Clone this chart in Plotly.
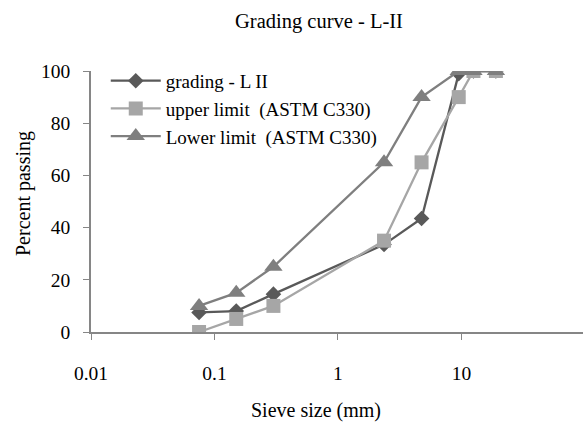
import plotly.graph_objects as go

sieve = [0.075, 0.15, 0.3, 2.36, 4.75, 9.5, 12.5, 19]
grading = [7.5, 8, 14.5, 33.5, 43.5, 99, 100, 100]
upper = [0, 5, 10, 35, 65, 90, 100, 100]
lower = [10, 15, 25, 65, 90, 100, 100, 100]
names = ["grading - L II", "upper limit  (ASTM C330)", "Lower limit  (ASTM C330)"]
x_ticks = [0.01, 0.1, 1, 10, 100]
x_tick_text = ["0.01", "0.1", "1", "10", "100"]
y_ticks = [0, 20, 40, 60, 80, 100]

FONT = "'Liberation Serif', 'Times New Roman', serif"
fig = go.Figure()
fig.add_trace(go.Scatter(x=sieve, y=grading, name=names[0], mode="lines+markers",
                         line=dict(color="#595959", width=2.3),
                         marker=dict(symbol="diamond", size=12, color="#595959")))
fig.add_trace(go.Scatter(x=sieve, y=upper, name=names[1], mode="lines+markers",
                         line=dict(color="#A6A6A6", width=2.3),
                         marker=dict(symbol="square", size=14, color="#A6A6A6")))
fig.add_trace(go.Scatter(x=sieve, y=lower, name=names[2], mode="lines+markers",
                         line=dict(color="#7F7F7F", width=2.3),
                         marker=dict(symbol="triangle-up", size=16, color="#7F7F7F")))

fig.update_layout(
    width=583, height=426,
    margin=dict(l=91, r=0, t=71, b=94),
    plot_bgcolor="white", paper_bgcolor="white",
    font=dict(family=FONT, size=19, color="black"),
    showlegend=True,
    legend=dict(x=0.03, y=1.035, xanchor="left", yanchor="top",
                bgcolor="rgba(0,0,0,0)", font=dict(family=FONT, size=19),
                itemwidth=50, tracegroupgap=0),
    xaxis=dict(type="log", range=[-2, 1.984], tickvals=x_ticks, ticktext=x_tick_text,
               showline=True, linecolor="#868686", linewidth=1.5,
               ticks="outside", ticklen=6, tickcolor="#868686",
               showgrid=False, zeroline=False, ticklabelstandoff=17,
               tickfont=dict(family=FONT, size=19.5)),
    yaxis=dict(range=[0, 100], tickvals=y_ticks,
               showline=True, linecolor="#868686", linewidth=1.5,
               ticks="outside", ticklen=6, tickcolor="#868686",
               showgrid=False, zeroline=False, ticklabelstandoff=9,
               tickfont=dict(family=FONT, size=19.5)),
    annotations=[
        dict(text="Grading curve - L-II", x=319, y=22, showarrow=False,
             font=dict(family=FONT, size=20.5)),
        dict(text="Sieve size (mm)", x=316, y=410, showarrow=False,
             font=dict(family=FONT, size=20)),
        dict(text="Percent passing", x=23, y=194, showarrow=False, textangle=-90,
             font=dict(family=FONT, size=20)),
    ],
)
# convert pixel positions of annotations to paper coords
W, H = 583, 426
l, r, t, b = 91, 0, 71, 94
pw, ph = W - l - r, H - t - b
new = []
for a in fig.layout.annotations:
    px, py = a.x, a.y
    a.update(x=(px - l) / pw, y=1 - (py - t) / ph, xref="paper", yref="paper",
             xanchor="center", yanchor="middle")
    new.append(a)
fig.layout.annotations = new
fig.write_html("out.html")
